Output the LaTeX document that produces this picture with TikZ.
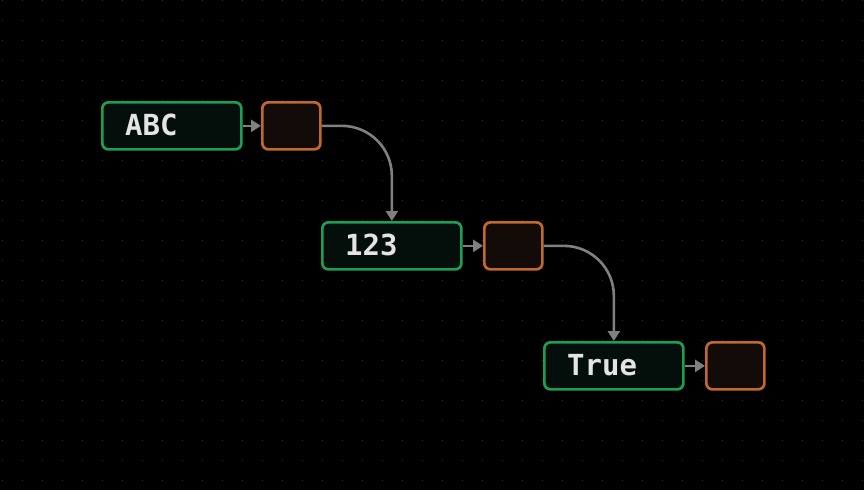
\documentclass[tikz,border=0pt]{standalone}
\usepackage{fontspec}
\newfontfamily\monofont{DejaVu Sans Mono}
\usetikzlibrary{arrows.meta}
\definecolor{bg}{HTML}{000000}
\definecolor{dotc}{HTML}{2E2E2E}
\definecolor{gborder}{HTML}{1E9E55}
\definecolor{gfill}{HTML}{040F0B}
\definecolor{oborder}{HTML}{C0682E}
\definecolor{ofill}{HTML}{120B07}
\definecolor{arrc}{HTML}{808080}
\definecolor{txt}{HTML}{E4E4E4}
\tikzset{
  valbox/.style={draw=gborder, fill=gfill, line width=2.7pt, rounded corners=6pt,
    minimum width=139pt, minimum height=47pt, inner sep=0pt, anchor=north west},
  ptrbox/.style={draw=oborder, fill=ofill, line width=2.7pt, rounded corners=6pt,
    minimum width=58pt, minimum height=47pt, inner sep=0pt, anchor=north west},
  vtext/.style={text=txt, font=\monofont\bfseries\fontsize{29}{29}\selectfont, anchor=west, inner sep=0pt},
  conn/.style={draw=arrc, line width=2.6pt, -{Triangle[length=10pt,width=12pt]}},
}
\begin{document}
\begin{tikzpicture}[x=1pt,y=-1pt]
\useasboundingbox (0,0) rectangle (864,490);
\fill[bg] (0,0) rectangle (864,490);
\foreach \i in {0,...,43}{
  \foreach \j in {0,...,24}{
    \fill[dotc] ({2.5+20*\i-0.6},{0.5+20*\j-0.6}) rectangle ++(1.2,1.2);
  }
}
% boxes
\node[valbox] (g1) at (101,101) {};
\node[ptrbox] (o1) at (261,101) {};
\node[valbox] (g2) at (321,221) {};
\node[ptrbox] (o2) at (483,221) {};
\node[valbox] (g3) at (543,341) {};
\node[ptrbox] (o3) at (705,341) {};
% texts
\node[vtext] (t1) at (125,125) {ABC};
\node[vtext] (t2) at (345,245) {123};
\node[vtext] (t3) at (567,365) {True};
% connectors
\draw[conn] (g1.east) -- (o1.west);
\draw[conn] (g2.east) -- (o2.west);
\draw[conn] (g3.east) -- (o3.west);
\draw[conn, rounded corners=50pt] (o1.east) -| (g2.north);
\draw[conn, rounded corners=50pt] (o2.east) -| (g3.north);
\end{tikzpicture}
\end{document}
